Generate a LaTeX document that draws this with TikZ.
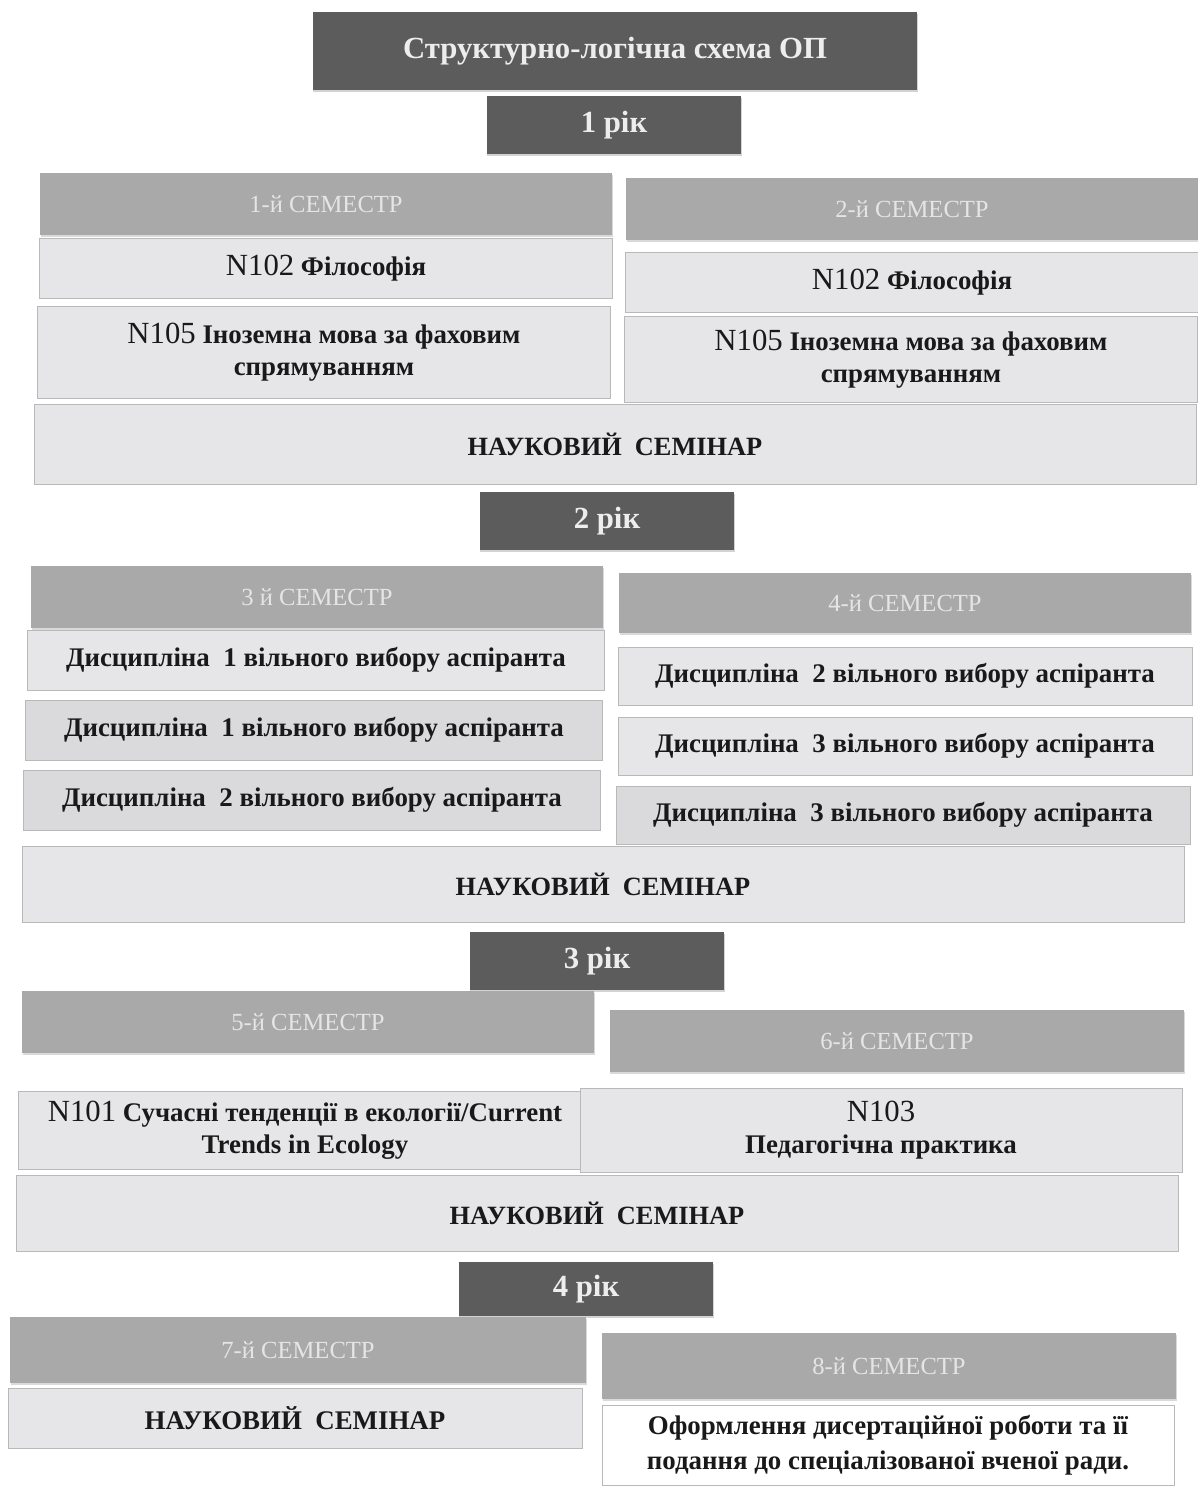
\documentclass[tikz,border=0pt]{standalone}
\usepackage{fontspec}
\setmainfont{Liberation Serif}
\usetikzlibrary{positioning, shadows}
\definecolor{darkbox}{HTML}{5C5C5C}
\definecolor{sembox}{HTML}{A9A9A9}
\definecolor{litebox}{HTML}{E6E6E8}
\definecolor{discbox}{HTML}{DADADC}
\newcommand{\seminar}{НАУКОВИЙ\ \ СЕМІНАР}
\newcommand{\disc}[1]{Дисципліна\ \ #1 вільного вибору аспіранта}
\newcommand{\code}[1]{{\fontsize{17.5}{19}\mdseries #1}}

\begin{document}
\begin{tikzpicture}[
        x=0.02cm, y=-0.02cm,
        % заголовок та роки
        year/.style={rectangle, fill=darkbox, text=white!93!black, inner sep=0pt, minimum width=5.1cm, minimum height=1.16cm, font=\fontsize{17.5}{20}\selectfont\bfseries, drop shadow={shadow xshift=0.4pt, shadow yshift=-1.2pt, opacity=0.35}},
        % семестри
        sem/.style={rectangle, fill=sembox, text=white!90!black, inner sep=0pt, minimum width=11.45cm, minimum height=1.24cm, font=\fontsize{14}{16}\selectfont, drop shadow={shadow xshift=0.4pt, shadow yshift=-1.2pt, opacity=0.3}},
        % дисципліни
        subj/.style={rectangle, draw=gray!55, line width=0.4pt, fill=litebox, inner sep=0pt, minimum width=11.45cm, minimum height=1.2cm, align=center, text=black!90, font=\fontsize{15.3}{18.5}\selectfont\bfseries},
        % науковий семінар
        wide/.style={subj, minimum width=23.25cm, minimum height=1.6cm, font=\fontsize{15}{18}\selectfont\bfseries}
    ]
    \useasboundingbox (0,0) rectangle (1197,1496);

    % 1 рік
    \node[year, minimum width=12.1cm, minimum height=1.56cm] (title) at (615,51) {Структурно-логічна схема ОП};
    \node[year] (yr1) at (614,125) {1 рік};
    \node[sem] (s1) at (326,204) {1-й СЕМЕСТР};
    \node[sem] (s2) at (912,209) {2-й СЕМЕСТР};
    \node[subj] (phil1) at (326,268) {\code{N102} Філософія};
    \node[subj] (phil2) at (912,282) {\code{N102} Філософія};
    \node[subj, minimum height=1.84cm] (lang1) at (324,352) {\code{N105} Іноземна мова за фаховим\\спрямуванням};
    \node[subj, minimum height=1.72cm] (lang2) at (911,359) {\code{N105} Іноземна мова за фаховим\\спрямуванням};
    \node[wide] (seminar1) at (615,444) {\seminar};

    % 2 рік
    \node[year] (yr2) at (607,521) {2 рік};
    \node[sem] (s3) at (317,597) {3 й СЕМЕСТР};
    \node[sem, minimum height=1.2cm] (s4) at (905,603) {4-й СЕМЕСТР};
    \node[subj, minimum width=11.55cm] (d3a) at (316,660) {\disc{1}};
    \node[subj, minimum width=11.55cm, fill=discbox] (d3b) at (314,730) {\disc{1}};
    \node[subj, minimum width=11.55cm, fill=discbox] (d3c) at (312,800) {\disc{2}};
    \node[subj, minimum width=11.48cm, minimum height=1.16cm] (d4a) at (905,676) {\disc{2}};
    \node[subj, minimum width=11.48cm, minimum height=1.16cm] (d4b) at (905,746) {\disc{3}};
    \node[subj, minimum width=11.48cm, minimum height=1.16cm, fill=discbox] (d4c) at (903,815) {\disc{3}};
    \node[wide, minimum height=1.52cm] (seminar2) at (603,884) {\seminar};

    % 3 рік
    \node[year] (yr3) at (597,961) {3 рік};
    \node[sem] (s5) at (308,1022) {5-й СЕМЕСТР};
    \node[sem, minimum width=11.5cm] (s6) at (897,1041) {6-й СЕМЕСТР};
    \node[subj, minimum width=11.48cm, minimum height=1.56cm] (ecol) at (305,1130) {\code{N101} Сучасні тенденції в екології/Current\\Trends in Ecology};
    \node[subj, minimum width=12.04cm, minimum height=1.68cm] (ped) at (881,1130) {\code{N103}\\Педагогічна практика};
    \node[wide, minimum width=23.24cm, minimum height=1.52cm] (seminar3) at (597,1213) {\seminar};

    % 4 рік
    \node[year, minimum height=1.08cm] (yr4) at (586,1289) {4 рік};
    \node[sem, minimum width=11.52cm, minimum height=1.32cm] (s7) at (298,1350) {7-й СЕМЕСТР};
    \node[sem, minimum width=11.48cm, minimum height=1.32cm] (s8) at (889,1366) {8-й СЕМЕСТР};
    \node[subj, minimum width=11.48cm] (seminar4) at (295,1418) {\seminar};
    \node[subj, minimum width=11.44cm, minimum height=1.6cm, fill=white, font=\fontsize{15.3}{20}\selectfont\bfseries] (thesis) at (888,1445) {Оформлення дисертаційної роботи та її\\подання до спеціалізованої вченої ради.};

    \end{tikzpicture}
\end{document}
